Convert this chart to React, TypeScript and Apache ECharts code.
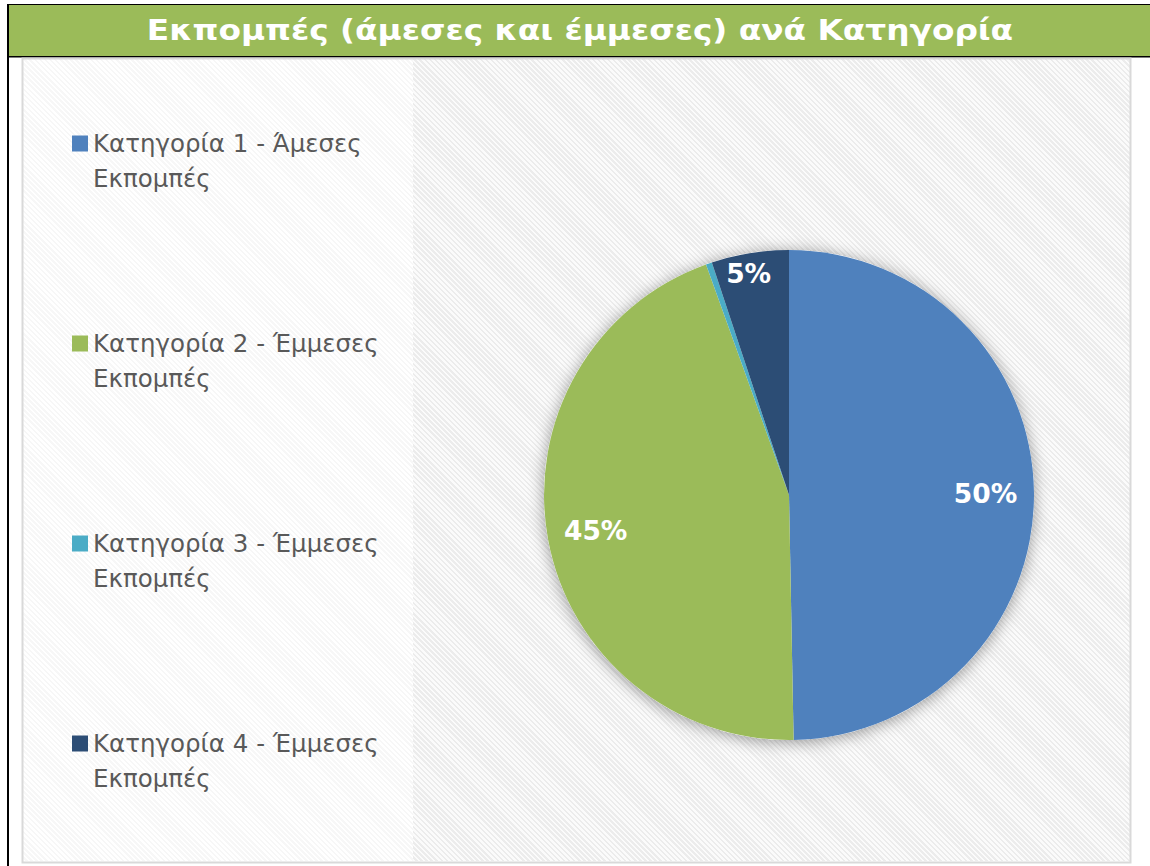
import React, { useEffect, useRef } from "react";
import * as echarts from "echarts";

const titleText = "Εκπομπές (άμεσες και έμμεσες) ανά Κατηγορία";
const categories = [
  "Κατηγορία 1 - Άμεσες Εκπομπές",
  "Κατηγορία 2 - Έμμεσες Εκπομπές",
  "Κατηγορία 3 - Έμμεσες Εκπομπές",
  "Κατηγορία 4 - Έμμεσες Εκπομπές",
];
const shares = [49.7, 44.8, 0.4, 5.1];
const colors = ["#4F81BD", "#9BBB59", "#4BACC6", "#2C4D75"];
const showLabel = [true, true, false, true];
const labelOffsets = [[0, 0], [0, 0], [0, 0], [-9, -27]];

const FONT = "DejaVu Sans";

export default function App() {
  const ref = useRef<HTMLDivElement>(null);
  useEffect(() => {
    if (!ref.current) return;
    const chart = echarts.init(ref.current, undefined, { renderer: "svg" });
    const center = [789, 495];
    const R = 245;
    chart.setOption({
      animation: false,
      backgroundColor: "transparent",
      graphic: [
        { type: "rect", shape: { x: 7, y: 4, width: 2, height: 862 }, style: { fill: "#000" }, silent: true },
        { type: "rect", shape: { x: 7, y: 4, width: 1143, height: 1 }, style: { fill: "#000" }, silent: true },
        { type: "rect", shape: { x: 9, y: 5, width: 1141, height: 51 }, style: { fill: "#9BBB59" }, silent: true },
        { type: "rect", shape: { x: 9, y: 56, width: 1141, height: 1.5 }, style: { fill: "#000" }, silent: true },
        {
          type: "rect",
          shape: { x: 22.5, y: 58.5, width: 1108, height: 804 },
          style: { fill: "none", stroke: "#d9d9d9", lineWidth: 2 },
          silent: true,
        },
        {
          type: "text",
          x: 580,
          y: 29.5,
          scaleX: 1.15,
          style: {
            text: titleText,
            align: "center",
            verticalAlign: "middle",
            fontSize: 28.5,
            fontWeight: "bold",
            fontFamily: FONT,
            fill: "#ffffff",
          },
          silent: true,
        },
      ],
      legend: {
        orient: "vertical",
        left: 67,
        top: 86,
        itemWidth: 16,
        itemHeight: 16,
        itemGap: 95,
        icon: "rect",
        selectedMode: false,
        data: categories,
        formatter: (n: string) => "\n" + n.replace(" Εκπομπές", "\nΕκπομπές"),
        textStyle: {
          fontFamily: FONT,
          fontSize: 24.5,
          color: "#595959",
          lineHeight: 35,
        },
      },
      series: [
        {
          type: "pie",
          name: "bg",
          center,
          radius: R,
          silent: true,
          label: { show: false },
          labelLine: { show: false },
          itemStyle: { color: "#ffffff", shadowBlur: 16, shadowOffsetY: 2, shadowColor: "rgba(0,0,0,0.4)" },
          data: [{ value: 1, name: "_bg" }],
        },
        {
          type: "pie",
          name: "Εκπομπές",
          center,
          radius: R,
          startAngle: 90,
          clockwise: true,
          label: { show: false },
          labelLine: { show: false },
          itemStyle: { borderWidth: 0 },
          data: categories.map((c, i) => ({ name: c, value: shares[i], itemStyle: { color: colors[i] } })),
        },
        {
          type: "pie",
          name: "labels",
          center,
          radius: [R * 0.58, R],
          startAngle: 90,
          clockwise: true,
          silent: true,
          labelLine: { show: false },
          itemStyle: { color: "rgba(0,0,0,0)", borderWidth: 0 },
          label: {
            show: true,
            position: "inside",
            formatter: (p: any) => Math.round(p.percent) + "%",
            color: "#ffffff",
            fontFamily: FONT,
            fontWeight: "bold",
            fontSize: 26.5,
          },
          data: categories.map((c, i) => ({
            name: c,
            value: shares[i],
            label: { show: showLabel[i], offset: labelOffsets[i] },
          })),
        },
      ],
    });
    return () => chart.dispose();
  }, []);

  const hatchLeft = "repeating-linear-gradient(45deg, #ffffff 0px, #ffffff 1.8px, #f7f7f7 1.8px, #f7f7f7 3.6px)";
  const hatchPlot = "repeating-linear-gradient(45deg, #fbfbfb 0px, #fbfbfb 1.8px, #ececec 1.8px, #ececec 3.6px)";

  return (
    <div style={{ position: "absolute", left: 0, top: 0, width: 1150, height: 866, background: "#ffffff", overflow: "hidden" }}>
      <div style={{ position: "absolute", left: 23, top: 59, width: 390, height: 802, background: hatchLeft }} />
      <div style={{ position: "absolute", left: 413, top: 59, width: 717, height: 802, background: hatchPlot }} />
      <div ref={ref} style={{ position: "absolute", left: 0, top: 0, width: 1150, height: 866 }} />
    </div>
  );
}
